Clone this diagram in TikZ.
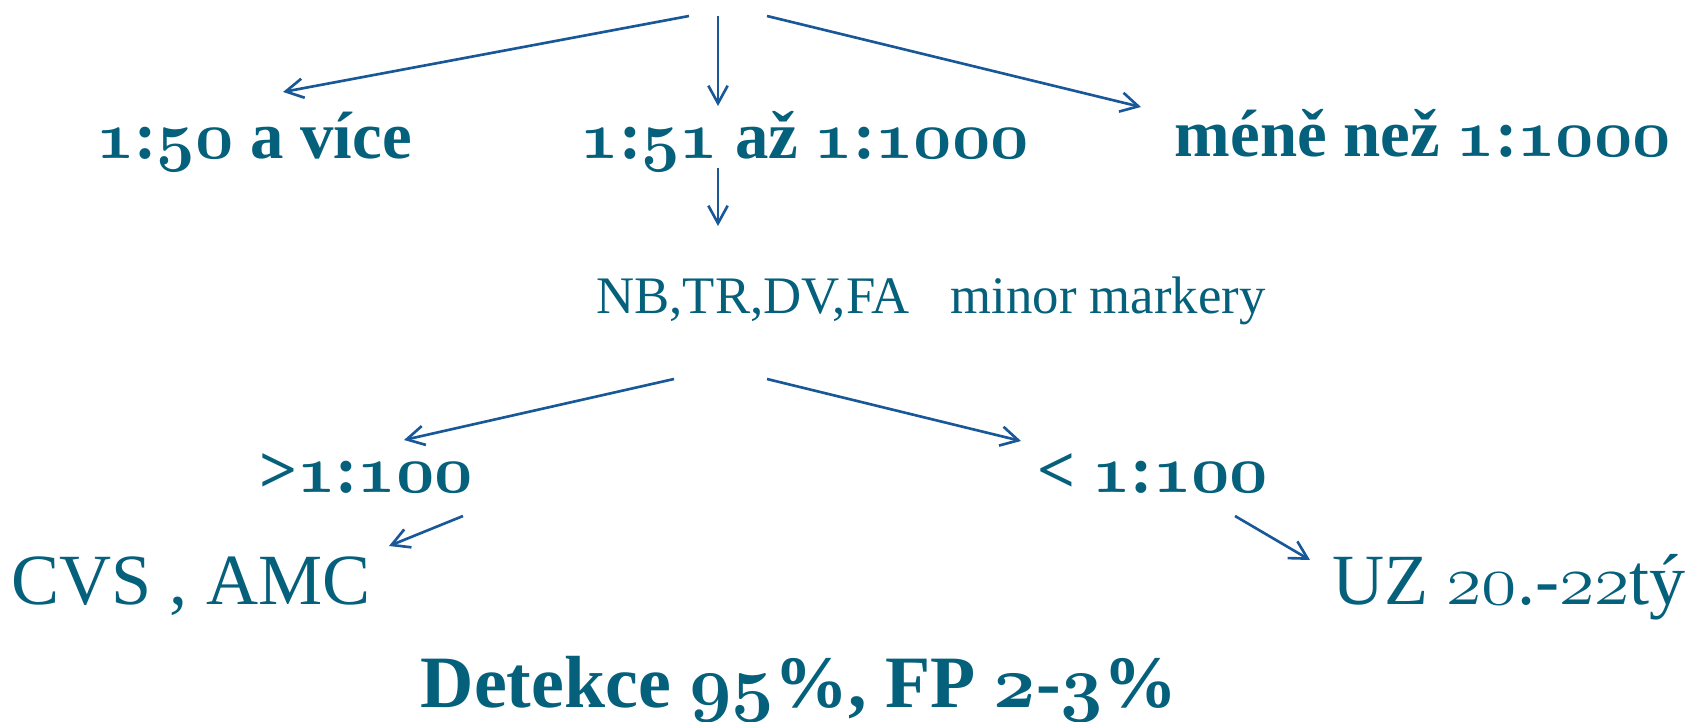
\RequirePackage{fix-cm}
\documentclass[tikz,border=0pt]{standalone}
\usepackage{fontspec}
\setmainfont{Liberation Serif}
\usepackage{xcolor}
\usetikzlibrary{arrows.meta}
\definecolor{txt}{RGB}{5,96,123}
\definecolor{arr}{RGB}{25,88,152}
\newcommand{\osb}[1]{{\usefont{OML}{cmm}{b}{it}#1}}
\newcommand{\osr}[1]{{\usefont{OML}{cmm}{m}{it}#1}}

\begin{document}
\begin{tikzpicture}[x=0.01cm,y=-0.01cm]
\tikzstyle{every node}+=[inner sep=0pt,text=txt,anchor=base]
\tikzstyle{head}=[font=\bfseries\fontsize{19}{23}\selectfont]
\tikzstyle{note}=[font=\fontsize{15}{18}\selectfont]
\tikzstyle{leaf}=[font=\fontsize{20.5}{25}\selectfont]
\tikzstyle{foot}=[font=\bfseries\fontsize{21}{25}\selectfont]
\tikzstyle{arrow}=[draw=arr,line width=0.75pt,-{Straight Barb[length=5pt,width=5.5pt]}]
\useasboundingbox (0,0) rectangle (1700,721);
\node[head] (hi) at (254,158) {\osb{1}:\osb{50} a více};
\node[head] (mid) at (805,158) {\osb{1}:\osb{51} až \osb{1}:\osb{1000}};
\node[head] (lo) at (1423,156) {méně než \osb{1}:\osb{1000}};
\node[note] (mark) at (931,313) {NB,TR,DV,FA\hspace{0.41cm}minor markery};
\node[head] (pos) at (366,492) {>\osb{1}:\osb{100}};
\node[head] (neg) at (1153,492) {< \osb{1}:\osb{100}};
\node[leaf] (cvs) at (191,604) {CVS , AMC};
\node[leaf] (uz) at (1509,604) {UZ \osr{20}.-\osr{22}tý};
\node[foot] (det) at (799,707) {Detekce \osb{95}\%, FP \osb{2}-\osb{3}\%};
\coordinate (s1) at (689,16);
\coordinate (e1) at (283,92);
\coordinate (s2) at (718,16);
\coordinate (e2) at (718,106);
\coordinate (s3) at (767,16);
\coordinate (e3) at (1141,107);
\coordinate (s4) at (718,168);
\coordinate (e4) at (718,226);
\coordinate (s5) at (674,379);
\coordinate (e5) at (404,440);
\coordinate (s6) at (767,379);
\coordinate (e6) at (1021,441);
\coordinate (s7) at (463,516);
\coordinate (e7) at (389,546);
\coordinate (s8) at (1235,516);
\coordinate (e8) at (1310,560);
\draw[arrow] (s1) -- (e1);
\draw[arrow] (s2) -- (e2);
\draw[arrow] (s3) -- (e3);
\draw[arrow] (s4) -- (e4);
\draw[arrow] (s5) -- (e5);
\draw[arrow] (s6) -- (e6);
\draw[arrow] (s7) -- (e7);
\draw[arrow] (s8) -- (e8);
\end{tikzpicture}
\end{document}
